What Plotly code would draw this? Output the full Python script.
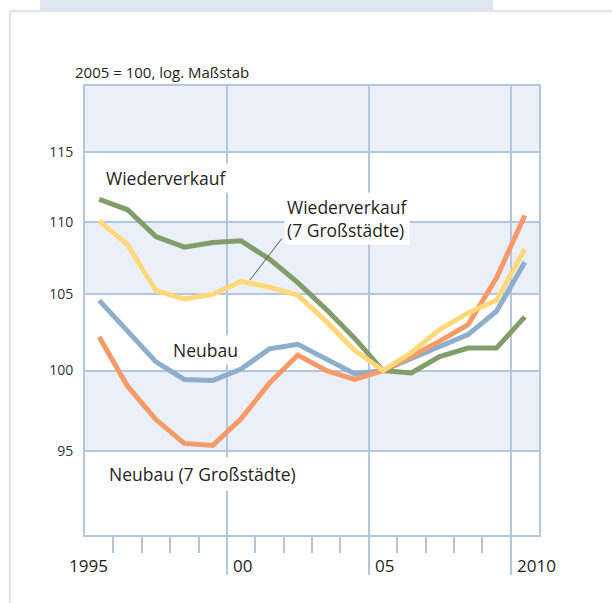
import plotly.graph_objects as go
import math

# ---- data (annual values, plotted at mid-year) ----
years = [1995.5 + i for i in range(16)]
wiederverkauf = [111.6, 110.85, 108.97, 108.23, 108.55, 108.67, 107.4, 105.8, 104.0, 102.1, 100.0, 99.85, 100.9, 101.45, 101.45, 103.5]
wiederverkauf_7 = [110.07, 108.4, 105.25, 104.7, 105.0, 105.88, 105.5, 104.95, 103.2, 101.3, 100.0, 101.16, 102.66, 103.76, 104.6, 108.1]
neubau = [104.6, 102.5, 100.56, 99.43, 99.36, 100.1, 101.4, 101.7, 100.7, 99.8, 100.0, 100.8, 101.55, 102.33, 103.87, 107.18]
neubau_7 = [102.18, 99.0, 96.91, 95.44, 95.31, 96.96, 99.2, 101.0, 100.0, 99.43, 100.0, 100.9, 101.9, 102.99, 106.1, 110.45]

y_ticks = [95, 100, 105, 110, 115]
band_ranges = [(95, 100), (105, 110), (115, 120)]
x_major = [2000, 2005, 2010]
x_minor = [1996, 1997, 1998, 1999, 2001, 2002, 2003, 2004, 2006, 2007, 2008, 2009]
x_labels = {1995: "1995", 2000: "00", 2005: "05", 2010: "2010"}

GRID = "#b3c6e0"
BAND = "#ebf0f8"
TXT = "#231f20"
FONT = "Open Sans"

fig = go.Figure()

series = [
    (neubau, "#8cafcd", "Neubau"),
    (wiederverkauf, "#819e6a", "Wiederverkauf"),
    (neubau_7, "#f79a68", "Neubau (7 Großstädte)"),
    (wiederverkauf_7, "#ffd87a", "Wiederverkauf (7 Großstädte)"),
]
for vals, col, name in series:
    fig.add_trace(go.Scatter(x=years, y=vals, mode="lines", name=name,
                             line=dict(color=col, width=5), hoverinfo="skip"))

shapes = []
for y0, y1 in band_ranges:
    shapes.append(dict(type="rect", xref="paper", x0=0, x1=1, yref="y", y0=y0, y1=y1,
                       fillcolor=BAND, line=dict(width=0), layer="below"))
# outer decoration (frame)
shapes.append(dict(type="rect", xref="paper", yref="paper", x0=-0.0991, x1=0.8987, y0=1.1693, y1=1.25,
                   fillcolor="#dde5f0", line=dict(width=0), layer="above"))
shapes.append(dict(type="line", xref="paper", yref="paper", x0=-0.1652, x1=-0.1652, y0=1.167, y1=-0.16,
                   line=dict(color="#dfe6f1", width=2.5)))
shapes.append(dict(type="line", xref="paper", yref="paper", x0=-0.1652, x1=1.17, y0=1.167, y1=1.167,
                   line=dict(color="#dfe6f1", width=2.5)))

annotations = [
    dict(text="2005 = 100, log. Maßstab", xref="paper", yref="paper", x=-0.027, y=1.031,
         xanchor="left", yanchor="middle", showarrow=False, font=dict(size=15, color=TXT, family=FONT)),
    dict(text="Wiederverkauf", xref="paper", yref="paper", x=0.040, y=0.795,
         xanchor="left", yanchor="middle", showarrow=False, bgcolor="white", borderpad=2,
         font=dict(size=17.5, color=TXT, family=FONT)),
    dict(text="Wiederverkauf<br>(7 Großstädte)", xref="paper", yref="paper", x=0.438, y=0.704,
         xanchor="left", yanchor="middle", align="left", showarrow=False, bgcolor="white", borderpad=2,
         font=dict(size=17.5, color=TXT, family=FONT)),
    dict(text="Neubau", xref="paper", yref="paper", x=0.188, y=0.412,
         xanchor="left", yanchor="middle", showarrow=False, bgcolor="white", borderpad=2,
         font=dict(size=17.5, color=TXT, family=FONT)),
    dict(text="Neubau (7 Großstädte)", xref="paper", yref="paper", x=0.042, y=0.136,
         xanchor="left", yanchor="middle", showarrow=False, bgcolor="white", borderpad=4,
         font=dict(size=17.5, color=TXT, family=FONT)),
    dict(text="", xref="paper", yref="paper", x=0.3634, y=0.5679, ax=33, ay=-43,
         showarrow=True, arrowhead=0, arrowwidth=1, arrowcolor="#555", standoff=0),
]
for yr, lab in x_labels.items():
    if yr == 1995:
        annotations.append(dict(text=lab, xref="x", yref="paper", x=yr, y=-0.069, xshift=3,
                                xanchor="center", yanchor="middle", showarrow=False,
                                font=dict(size=17, color=TXT, family=FONT)))
    else:
        annotations.append(dict(text=lab, xref="x", yref="paper", x=yr, y=-0.069, xshift=4,
                                xanchor="left", yanchor="middle", showarrow=False,
                                font=dict(size=17, color=TXT, family=FONT)))

fig.update_layout(
    width=612, height=603,
    margin=dict(l=85, r=73, t=86, b=68),
    paper_bgcolor="white", plot_bgcolor="white",
    showlegend=False,
    shapes=shapes, annotations=annotations,
    font=dict(family=FONT, color=TXT),
)
fig.update_xaxes(
    range=[1995, 2011], tickvals=x_major, showticklabels=False,
    ticks="outside", ticklen=38, tickwidth=2, tickcolor=GRID,
    showgrid=True, gridcolor=GRID, gridwidth=2,
    showline=True, linecolor=GRID, linewidth=2, mirror=True, zeroline=False,
    minor=dict(tickvals=x_minor, ticks="outside", ticklen=16, tickwidth=2, tickcolor=GRID, showgrid=False),
)
fig.update_yaxes(
    type="log", range=[math.log10(90), math.log10(120)], tickvals=y_ticks,
    ticktext=[str(v) for v in y_ticks],
    ticks="", ticklabelstandoff=7,
    tickfont=dict(size=14, color="#333333", family=FONT),
    showgrid=True, gridcolor=GRID, gridwidth=2,
    showline=True, linecolor=GRID, linewidth=2, mirror=True, zeroline=False,
)

fig.write_html("out.html", config={"displayModeBar": False},
               post_script="document.body.style.margin='0px';")
